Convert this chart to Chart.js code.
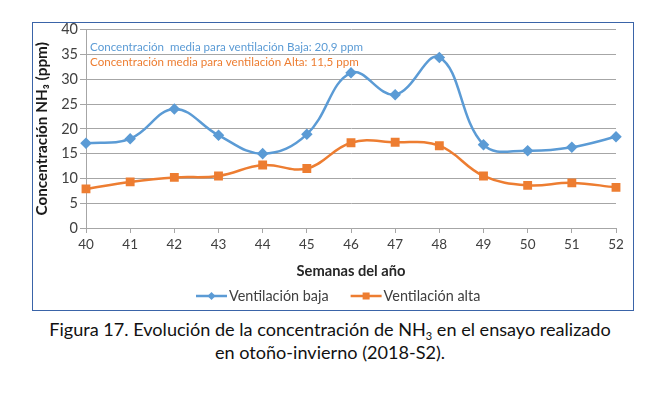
<!DOCTYPE html>
<html><head><meta charset="utf-8">
<script src="https://cdn.jsdelivr.net/npm/chart.js@4/dist/chart.umd.min.js"></script>
<style>
html,body{margin:0;padding:0;background:#fff;width:660px;height:393px;overflow:hidden;}
#box{position:absolute;left:32px;top:22px;width:600px;height:287px;border:1px solid #3a64a8;}
#c{position:absolute;left:0;top:-4px;}
#cap{position:absolute;left:0;top:318px;width:660px;text-align:center;font-family:Lato,"Open Sans",sans-serif;font-size:18px;line-height:23px;color:#111;}
#cap sub{font-size:11px;vertical-align:-4px;line-height:0;}
</style></head><body>
<div id="box"><canvas id="c" width="600" height="291"></canvas></div>
<div id="cap"><span id="l1">Figura 17. Evolución de la concentración de NH<sub>3</sub> en el ensayo realizado</span><br><span id="l2">en otoño-invierno (2018-S2).</span></div>
<script>
const weeks = ["40","41","42","43","44","45","46","47","48","49","50","51","52"];
const ventBaja = [17.1, 18.0, 24.0, 18.7, 15.0, 18.9, 31.3, 26.9, 34.4, 16.8, 15.6, 16.3, 18.4];
const ventAlta = [7.9, 9.3, 10.2, 10.5, 12.7, 12.0, 17.2, 17.3, 16.6, 10.5, 8.6, 9.1, 8.2];
const yTicks = [0,5,10,15,20,25,30,35,40];
const noteBaja = "Concentración  media para ventilación Baja: 20,9 ppm";
const noteAlta = "Concentración media para ventilación Alta: 11,5 ppm";
const legendNames = ["Ventilación baja", "Ventilación alta"];
const blue = "#5b9bd5", orange = "#ed7d31";
const FONT = 'Lato, "Open Sans", sans-serif';

const mctx = document.createElement('canvas').getContext('2d');
function fit(text, weight, target){
  mctx.font = weight + ' 100px ' + FONT;
  return Math.round(100 * target / mctx.measureText(text).width * 10) / 10;
}
const noteSize = fit(noteBaja, 'normal', 272);
const legSize = fit(legendNames[0], 'normal', 100);
const xTitleSize = fit('Semanas del año', 'bold', 109);
const yTitleSize = fit('Concentración NH₃ (ppm)', 'bold', 173);
const capSize = fit('Figura 17. Evolución de la concentración de NH3 en el ensayo realizado', 'normal', 566);
document.getElementById('cap').style.fontSize = capSize + 'px';

const extras = {
  id:'extras',
  afterDraw(chart){
    const ctx = chart.ctx;
    ctx.save();
    ctx.font = noteSize + 'px ' + FONT;
    ctx.textBaseline = 'middle';
    ctx.textAlign = 'left';
    ctx.fillStyle = blue;
    ctx.fillText(noteBaja, 57, 28);
    ctx.fillStyle = orange;
    ctx.fillText(noteAlta, 57, 43);
    const items = [{t:legendNames[0], c:blue, s:'rectRot'}, {t:legendNames[1], c:orange, s:'rect'}];
    ctx.font = legSize + 'px ' + FONT;
    const y = 277;
    let x = 163;
    items.forEach((it)=>{
      ctx.strokeStyle = it.c; ctx.lineWidth = 2.5;
      ctx.beginPath(); ctx.moveTo(x, y); ctx.lineTo(x+31, y); ctx.stroke();
      ctx.fillStyle = it.c;
      if (it.s==='rect') ctx.fillRect(x+15.5-3.5, y-3.5, 7, 7);
      else { ctx.beginPath(); ctx.moveTo(x+15.5,y-4); ctx.lineTo(x+19.5,y); ctx.lineTo(x+15.5,y+4); ctx.lineTo(x+11.5,y); ctx.closePath(); ctx.fill(); }
      ctx.fillStyle = '#404040';
      ctx.fillText(it.t, x+33, y);
      x += 33 + ctx.measureText(it.t).width + 22;
    });
    ctx.restore();
  }
};

new Chart(document.getElementById('c'), {
  type:'line',
  data:{
    labels: weeks,
    datasets:[
      {label:legendNames[0], data: ventBaja, borderColor: blue, backgroundColor: blue, borderWidth: 2.5,
       pointStyle:'rectRot', pointRadius:4, pointHoverRadius:4, tension:0.4},
      {label:legendNames[1], data: ventAlta, borderColor: orange, backgroundColor: orange, borderWidth: 2.5,
       pointStyle:'rect', pointRadius:4.5, pointHoverRadius:4.5, tension:0.4}
    ]
  },
  options:{
    responsive:false, animation:false,
    layout:{padding:{top:0, right:17, bottom:30, left:0}},
    plugins:{legend:{display:false}, tooltip:{enabled:false}},
    scales:{
      x:{
        offset:false,
        grid:{drawOnChartArea:false, drawTicks:true, tickLength:5, color:'#a6a6a6'},
        border:{color:'#a6a6a6', width:1},
        ticks:{font:{family:FONT, size:13.5}, color:'#404040', padding:4, maxRotation:0},
        title:{display:true, text:'Semanas del año', font:{family:FONT, size:xTitleSize, weight:'bold'}, color:'#262626', padding:{top:5,bottom:0}},
        afterFit(s){ s.height = 52; }
      },
      y:{
        min:0, max:40,
        afterBuildTicks(s){ s.ticks = yTicks.map(v=>({value:v})); },
        grid:{color:'#a6a6a6', drawTicks:true, tickLength:6},
        border:{color:'#a6a6a6', width:1},
        ticks:{font:{family:FONT, size:14.5}, color:'#404040', padding:2},
        title:{display:true, text:'Concentración NH₃ (ppm)', font:{family:FONT, size:yTitleSize, weight:'bold'}, color:'#1a1a1a', padding:{top:0,bottom:1}},
        afterFit(s){ s.width = 53; }
      }
    }
  },
  plugins:[extras]
});
</script>
</body></html>
